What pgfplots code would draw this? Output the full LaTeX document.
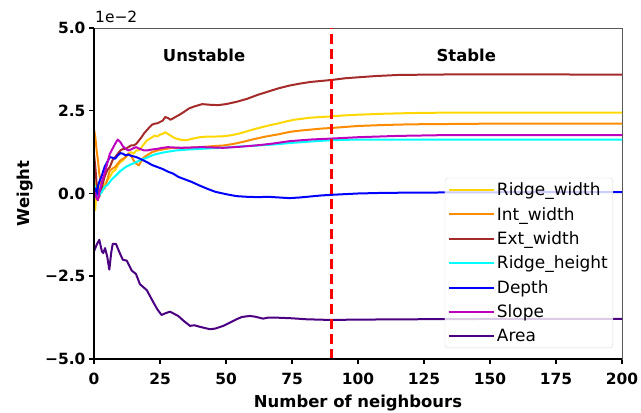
\documentclass[border=0pt]{standalone}
\usepackage{fontspec}
\setmainfont{DejaVu Sans}
\usepackage{pgfplots}
\pgfplotsset{compat=1.18}
\definecolor{cgold}{HTML}{FFD700}
\definecolor{corange}{HTML}{FF8C00}
\definecolor{cbrown}{HTML}{A52A2A}
\definecolor{ccyan}{HTML}{00FFFF}
\definecolor{cblue}{HTML}{0000FF}
\definecolor{cmag}{HTML}{BF00BF}
\definecolor{cindigo}{HTML}{4B0082}
\begin{document}
\begin{tikzpicture}
\begin{axis}[name=ax, scale only axis, width=528bp, height=331bp,
  xmin=0, xmax=200, ymin=-5, ymax=5,
  xtick={0,25,...,200}, ytick={-5,-2.5,0,2.5,5},
  yticklabels={−5.0,−2.5,0.0,2.5,5.0},
  /pgf/number format/assume math mode=true,
  tick label style={font=\fontsize{15.5}{18}\selectfont\bfseries},
  xticklabel style={yshift=-6bp},
  tick pos=left, tick align=outside, major tick length=5bp,
  every tick/.style={black, line width=1.5bp},
  axis line style={draw=black!65, line width=0.8bp},
  xlabel={Number of neighbours}, ylabel={Weight},
  label style={font=\fontsize{16.5}{19}\selectfont\bfseries},
  xlabel style={yshift=-3bp}, ylabel style={yshift=5bp},
  legend cell align=left,
  legend style={at={(0.983,0.033)}, anchor=south east, draw=black!15, rounded corners=3bp,
    fill=white, fill opacity=0.8, text opacity=1, font=\fontsize{17}{19}\selectfont,
    row sep=6bp, inner xsep=3bp, inner ysep=3bp},
  legend image code/.code={\path (0bp,0bp) -- (45bp,0bp); \draw[#1] (0bp,0bp) -- (38bp,0bp);},
  every axis plot/.append style={line width=2bp, line join=round},
]
\addplot[cgold] coordinates {(0,0.9) (0.5,-0.5) (1,0.3) (1.5,-0.2) (2,0.2) (3,0.05) (4,0.25) (5,0.4) (6,0.5) (7,0.65) (8,0.7) (9,0.85) (10,0.95) (11,1.0) (12,1.1) (13,1.2) (14,1.25) (15,1.2) (16,1.3) (17,1.3) (18,1.4) (19,1.5) (20,1.6) (21,1.65) (22,1.7) (23,1.75) (24,1.72) (25,1.78) (26,1.8) (27,1.85) (28,1.8) (29,1.75) (30,1.7) (31,1.66) (32,1.64) (33,1.62) (35,1.61) (37,1.65) (40,1.70) (43,1.72) (46,1.72) (49,1.73) (52,1.76) (55,1.81) (58,1.88) (61,1.95) (64,2.01) (67,2.07) (70,2.12) (73,2.18) (76,2.23) (79,2.26) (82,2.29) (86,2.31) (90,2.33) (95,2.36) (100,2.38) (110,2.41) (120,2.43) (130,2.44) (150,2.44) (175,2.44) (200,2.44)};
\addlegendentry{Ridge\_width}
\addplot[corange] coordinates {(0,1.95) (0.5,1.7) (1,1.3) (1.5,1.0) (2,0.6) (2.5,0.35) (3,0.25) (4,0.15) (5,0.4) (6,0.7) (7,0.75) (8,0.8) (9,0.9) (10,1.0) (11,1.05) (12,1.1) (13,1.2) (14,1.15) (15,1.0) (16,0.9) (17,0.85) (18,1.0) (19,1.1) (20,1.15) (22,1.25) (24,1.3) (26,1.33) (28,1.36) (30,1.38) (33,1.38) (36,1.38) (40,1.40) (45,1.43) (49,1.45) (53,1.50) (57,1.57) (61,1.65) (65,1.72) (70,1.79) (74,1.86) (78,1.90) (82,1.93) (86,1.96) (90,1.98) (95,2.01) (100,2.04) (110,2.07) (120,2.09) (135,2.10) (150,2.11) (200,2.11)};
\addlegendentry{Int\_width}
\addplot[cbrown] coordinates {(0,1.2) (0.5,0.8) (1,0.3) (1.5,0.0) (2,-0.1) (3,0.2) (4,0.5) (5,0.7) (6,0.8) (7,1.0) (8,1.1) (9,1.2) (10,1.3) (11,1.35) (12,1.35) (13,1.4) (14,1.45) (15,1.45) (16,1.5) (17,1.6) (18,1.7) (19,1.82) (20,1.91) (21,2.0) (22,2.08) (23,2.11) (24,2.12) (25,2.16) (26,2.2) (27,2.31) (28,2.28) (29,2.23) (30,2.27) (31,2.32) (32,2.36) (34,2.46) (36,2.57) (38,2.63) (41,2.70) (44,2.68) (47,2.67) (50,2.70) (54,2.77) (58,2.86) (62,2.98) (66,3.08) (70,3.18) (74,3.26) (78,3.32) (82,3.37) (86,3.40) (90,3.43) (95,3.48) (100,3.51) (107,3.55) (115,3.58) (125,3.59) (140,3.60) (160,3.60) (200,3.59)};
\addlegendentry{Ext\_width}
\addplot[ccyan] coordinates {(0,0.3) (0.5,0.15) (1,0.0) (1.5,-0.08) (2,-0.05) (3,0.05) (4,0.2) (5,0.25) (6,0.35) (7,0.45) (8,0.52) (9,0.6) (10,0.68) (11,0.74) (12,0.8) (14,0.88) (16,0.95) (18,1.02) (20,1.08) (22,1.15) (24,1.2) (27,1.25) (31,1.3) (36,1.33) (41,1.35) (45,1.37) (49,1.38) (55,1.42) (62,1.45) (68,1.48) (75,1.53) (82,1.57) (90,1.61) (100,1.63) (120,1.63) (200,1.63)};
\addlegendentry{Ridge\_height}
\addplot[cblue] coordinates {(0,0.0) (0.5,0.15) (1,-0.05) (1.5,0.2) (2,0.35) (3,0.55) (4,0.8) (5,0.95) (6,1.1) (7,1.08) (8,1.05) (9,1.15) (10,1.22) (11,1.2) (12,1.15) (13,1.18) (14,1.14) (15,1.12) (16,1.1) (18,1.03) (20,0.95) (22,0.86) (24,0.8) (26,0.74) (28,0.66) (30,0.6) (32,0.5) (34,0.44) (37,0.35) (40,0.24) (43,0.14) (46,0.05) (50,-0.02) (54,-0.08) (58,-0.1) (62,-0.11) (66,-0.1) (70,-0.12) (74,-0.14) (78,-0.12) (82,-0.09) (86,-0.06) (90,-0.04) (95,-0.02) (100,0.0) (110,0.02) (130,0.03) (160,0.04) (200,0.04)};
\addlegendentry{Depth}
\addplot[cmag] coordinates {(0,0.05) (0.5,0.0) (1,-0.15) (1.5,-0.2) (2,0.0) (3,0.35) (4,0.6) (5,0.9) (6,1.2) (7,1.35) (8,1.5) (9,1.63) (10,1.55) (11,1.42) (12,1.35) (13,1.3) (14,1.33) (15,1.37) (16,1.4) (17,1.36) (18,1.33) (19,1.3) (20,1.3) (22,1.33) (24,1.35) (26,1.38) (28,1.4) (30,1.39) (33,1.38) (37,1.39) (41,1.40) (45,1.39) (49,1.38) (55,1.41) (61,1.45) (67,1.5) (74,1.58) (82,1.63) (90,1.66) (100,1.70) (115,1.74) (130,1.76) (200,1.76)};
\addlegendentry{Slope}
\addplot[cindigo] coordinates {(0,-1.75) (0.5,-1.65) (1,-1.55) (2,-1.40) (3,-1.75) (3.5,-1.8) (4.2,-1.65) (5,-1.9) (5.8,-2.3) (6.5,-1.8) (7.1,-1.52) (8.3,-1.52) (9.5,-1.75) (10.9,-2.0) (12.4,-2.03) (14.3,-2.33) (15.9,-2.43) (17.4,-2.74) (20,-2.92) (22.5,-3.29) (24,-3.5) (25.6,-3.67) (27,-3.62) (28.8,-3.57) (30,-3.62) (31.9,-3.70) (34,-3.85) (36.4,-4.0) (38,-3.98) (40.2,-4.03) (43.9,-4.10) (46,-4.08) (49,-4.0) (51,-3.92) (54,-3.80) (56,-3.73) (59,-3.70) (61,-3.72) (64,-3.78) (66,-3.75) (69,-3.75) (75,-3.77) (80.5,-3.80) (89.4,-3.82) (100,-3.81) (120,-3.8) (150,-3.79) (200,-3.79)};
\addlegendentry{Area}
\addplot[red, line width=2.5bp, dash pattern=on 10bp off 5bp, forget plot] coordinates {(90,-5) (90,5)};
\node[font=\fontsize{16.5}{19}\selectfont\bfseries] at (axis cs:41.7,4.18) {Unstable};
\node[font=\fontsize{16.5}{19}\selectfont\bfseries] at (axis cs:141,4.18) {Stable};
\end{axis}
\draw[black, line width=2bp] (ax.north west) -- (ax.south west) -- (ax.south east);
\node[anchor=south west, inner sep=0pt, font=\fontsize{15.5}{18}\selectfont] at ([xshift=1bp,yshift=5bp]ax.north west) {1e−2};
\pgfresetboundingbox
\path[use as bounding box] ([xshift=-94bp,yshift=-54bp]ax.south west) rectangle ([xshift=19bp,yshift=28bp]ax.north east);
\end{tikzpicture}
\end{document}
